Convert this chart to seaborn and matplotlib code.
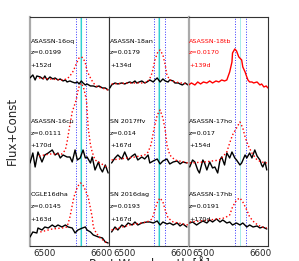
import numpy as np
import pandas as pd
import matplotlib
matplotlib.use("Agg")
import matplotlib.pyplot as plt
import seaborn as sns

# names / labels, column by column, top to bottom
names = [["ASASSN-16oq", "ASASSN-16cu", "OGLE16dha"],
         ["ASASSN-18an", "SN 2017ffv", "SN 2016dag"],
         ["ASASSN-18tb", "ASASSN-17ho", "ASASSN-17hb"]]
redshifts = [["z=0.0199", "z=0.0111", "z=0.0145"],
             ["z=0.0179", "z=0.014", "z=0.0193"],
             ["z=0.0170", "z=0.017", "z=0.0191"]]
phases = [["+152d", "+170d", "+163d"],
          ["+134d", "+167d", "+167d"],
          ["+139d", "+154d", "+170d"]]

# line markers per column: centre, lower, upper (Angstrom)
line_centre = [6563.5, 6561, 6565]
line_lo = [6554, 6552, 6555]
line_hi = [6573, 6571, 6574]

# ---- column 1 ----
wl_16oq = [6474, 6479, 6483, 6486, 6492, 6497, 6500, 6504, 6509, 6514, 6518, 6523, 6527, 6532, 6536, 6539,
           6544, 6548, 6553, 6557, 6560, 6564, 6567, 6571, 6574, 6580, 6585, 6590, 6595, 6601, 6606, 6611]
fl_16oq = [16.8, 17.1, 16.6, 17.0, 16.9, 16.7, 17.0, 16.6, 16.9, 16.7, 16.8, 16.6, 16.7, 16.5, 16.6, 16.4,
           16.5, 16.4, 16.3, 16.4, 16.2, 16.5, 16.3, 16.1, 16.2, 16.0, 16.0, 15.9, 16.0, 15.8, 15.8, 15.6]
mwl_16oq = [6490, 6509, 6530, 6539, 6544, 6550, 6555, 6560, 6564, 6567, 6571, 6574, 6580, 6585, 6590, 6600, 6611]
mfl_16oq = [16.8, 16.7, 16.6, 16.7, 17.0, 17.5, 18.2, 18.8, 18.9, 18.8, 18.3, 17.5, 16.8, 16.3, 16.0, 15.8, 15.6]

wl_16cu = [6474, 6479, 6483, 6488, 6495, 6500, 6506, 6513, 6518, 6523, 6527, 6532, 6539, 6544, 6548,
           6553, 6557, 6562, 6567, 6571, 6574, 6580, 6583, 6588, 6594, 6597, 6601, 6606, 6611]
fl_16cu = [8.3, 9.3, 7.9, 9.4, 8.4, 9.1, 9.3, 9.6, 9.1, 9.3, 8.8, 9.1, 8.9, 8.9, 8.4,
           9.6, 8.6, 8.8, 9.6, 8.8, 8.9, 8.3, 8.9, 7.6, 8.4, 7.8, 7.4, 8.1, 7.3]
mwl_16cu = [6490, 6509, 6530, 6536, 6539, 6543, 6548, 6555, 6559, 6564, 6568, 6573, 6576, 6580, 6583, 6588, 6597, 6611]
mfl_16cu = [9.0, 9.2, 9.2, 9.6, 10.4, 11.8, 13.4, 14.6, 15.8, 16.3, 15.8, 14.6, 11.8, 10.1, 9.4, 8.6, 8.3, 7.8]

wl_16dha = [6474, 6479, 6486, 6488, 6495, 6500, 6506, 6513, 6518, 6523, 6530, 6536, 6541, 6548, 6553,
            6558, 6566, 6571, 6574, 6580, 6585, 6594, 6601, 6606, 6611]
fl_16dha = [0.9, 1.4, 1.3, 1.8, 1.6, 1.9, 1.8, 2.1, 1.9, 2.1, 1.9, 2.1, 1.9, 1.8, 1.3,
            1.6, 1.8, 1.9, 1.6, 1.4, 1.1, 0.9, 0.8, 0.4, 0.3]
mwl_16dha = [6492, 6513, 6530, 6539, 6544, 6551, 6557, 6562, 6566, 6571, 6576, 6583, 6585, 6590, 6597, 6611]
mfl_16dha = [1.4, 1.7, 1.8, 1.9, 2.9, 4.9, 5.9, 6.3, 6.2, 5.6, 4.9, 2.9, 1.9, 1.3, 0.8, 0.2]

# ---- column 2 ----
wl_18an = [6475, 6478, 6484, 6489, 6496, 6501, 6505, 6510, 6514, 6519, 6522, 6531, 6536, 6540, 6545,
           6551, 6554, 6558, 6563, 6568, 6572, 6577, 6580, 6586, 6589, 6595, 6598, 6602, 6607, 6612]
fl_18an = [15.8, 16.1, 16.3, 16.2, 16.3, 16.2, 16.3, 16.4, 16.3, 16.5, 16.3, 16.5, 16.3, 16.4, 16.6,
           16.4, 16.6, 16.8, 16.4, 16.7, 16.5, 16.4, 16.6, 16.5, 16.3, 16.3, 16.2, 16.1, 16.3, 16.1]
mwl_18an = [6478, 6510, 6536, 6544, 6549, 6554, 6559, 6563, 6568, 6572, 6575, 6580, 6589, 6612]
mfl_18an = [16.2, 16.3, 16.3, 16.6, 17.3, 18.6, 19.4, 19.6, 19.1, 18.1, 17.1, 16.6, 16.4, 16.2]

wl_17ffv = [6478, 6484, 6489, 6496, 6501, 6507, 6514, 6519, 6524, 6531, 6536, 6542, 6545, 6551,
            6558, 6563, 6568, 6575, 6580, 6586, 6593, 6598, 6603, 6610]
fl_17ffv = [8.3, 8.8, 9.1, 8.7, 9.4, 8.6, 9.0, 9.2, 8.6, 8.9, 8.7, 9.1, 8.3, 8.5,
            8.7, 8.2, 8.5, 8.7, 8.2, 8.4, 8.5, 8.2, 8.4, 8.3]
mwl_17ffv = [6478, 6519, 6536, 6542, 6547, 6552, 6558, 6563, 6568, 6572, 6575, 6580, 6589, 6612]
mfl_17ffv = [8.6, 8.9, 9.1, 9.4, 10.1, 11.6, 13.1, 13.6, 12.8, 11.6, 10.1, 9.1, 8.6, 8.3]

wl_16dag = [6478, 6484, 6489, 6496, 6501, 6507, 6514, 6519, 6524, 6531, 6540, 6545, 6551, 6558,
            6563, 6568, 6575, 6580, 6586, 6593, 6598, 6603, 6610]
fl_16dag = [1.4, 1.9, 1.6, 2.1, 1.9, 2.3, 2.1, 2.4, 2.1, 2.3, 2.4, 2.4, 2.3, 2.5,
            2.1, 2.4, 2.2, 2.3, 2.1, 2.3, 2.0, 2.2, 1.9]
mwl_16dag = [6478, 6510, 6540, 6549, 6554, 6559, 6563, 6568, 6572, 6577, 6586, 6612]
mfl_16dag = [1.6, 2.1, 2.4, 2.7, 3.6, 4.5, 4.8, 4.4, 3.6, 2.8, 2.4, 2.1]

# ---- column 3 ----
wl_18tb = [6474, 6479, 6485, 6490, 6495, 6500, 6506, 6511, 6516, 6522, 6527, 6532, 6537, 6541, 6546, 6550,
           6551, 6555, 6558, 6562, 6567, 6569, 6573, 6576, 6578, 6581, 6585, 6588, 6594, 6599, 6602, 6606, 6610, 6613]
fl_18tb = [16.1, 16.3, 16.1, 16.4, 16.2, 16.4, 16.3, 16.5, 16.3, 16.5, 16.4, 16.6, 16.5, 16.6, 17.4, 18.4,
           19.3, 19.7, 19.5, 18.9, 18.6, 17.9, 17.4, 16.9, 16.6, 16.4, 16.4, 16.3, 16.4, 16.1, 16.2, 15.9, 16.0, 15.8]

wl_17ho = [6476, 6481, 6485, 6490, 6493, 6499, 6502, 6506, 6511, 6516, 6520, 6525, 6529, 6532, 6537, 6541,
           6546, 6550, 6555, 6558, 6564, 6567, 6573, 6576, 6581, 6585, 6590, 6594, 6599, 6602, 6604, 6608, 6611]
fl_17ho = [7.9, 8.6, 8.4, 7.6, 7.3, 8.6, 8.3, 7.6, 8.4, 7.8, 7.9, 7.3, 8.6, 8.9, 8.1, 9.3,
           8.8, 9.4, 8.8, 8.6, 8.1, 8.3, 9.1, 8.8, 9.3, 8.8, 9.6, 9.0, 8.6, 8.1, 7.9, 8.4, 7.6]
mwl_17ho = [6476, 6502, 6529, 6541, 6546, 6551, 6558, 6564, 6569, 6573, 6578, 6585, 6594, 6602, 6611]
mfl_17ho = [8.3, 8.4, 8.6, 9.4, 10.3, 11.1, 11.8, 12.4, 11.8, 10.9, 10.1, 9.3, 8.6, 8.4, 8.3]

wl_17hb = [6476, 6481, 6488, 6493, 6499, 6506, 6511, 6516, 6523, 6529, 6534, 6541, 6546, 6551,
           6558, 6564, 6569, 6576, 6581, 6587, 6594, 6599, 6604, 6611]
fl_17hb = [2.3, 2.4, 2.1, 2.3, 2.5, 2.3, 2.6, 2.4, 2.7, 2.4, 2.6, 2.3, 2.4, 2.1,
           2.3, 2.1, 2.3, 1.9, 2.1, 1.9, 2.0, 1.8, 1.9, 1.7]
mwl_17hb = [6476, 6511, 6537, 6546, 6551, 6558, 6564, 6569, 6576, 6581, 6590, 6602, 6611]
mfl_17hb = [2.4, 2.6, 2.8, 3.1, 3.9, 4.6, 4.8, 4.4, 3.6, 2.9, 2.3, 1.9, 1.8]

spectra = [[(wl_16oq, fl_16oq), (wl_16cu, fl_16cu), (wl_16dha, fl_16dha)],
           [(wl_18an, fl_18an), (wl_17ffv, fl_17ffv), (wl_16dag, fl_16dag)],
           [(wl_18tb, fl_18tb), (wl_17ho, fl_17ho), (wl_17hb, fl_17hb)]]
models = [[(mwl_16oq, mfl_16oq), (mwl_16cu, mfl_16cu), (mwl_16dha, mfl_16dha)],
          [(mwl_18an, mfl_18an), (mwl_17ffv, mfl_17ffv), (mwl_16dag, mfl_16dag)],
          [None, (mwl_17ho, mfl_17ho), (mwl_17hb, mfl_17hb)]]
label_y = [(20.4, 19.3, 18.0), (12.4, 11.2, 10.0), (5.1, 3.9, 2.6)]

sns.set_theme(style="white")
plt.rcParams['font.family'] = ['DejaVu Sans']

fig, axes = plt.subplots(1, 3, figsize=(2.99, 2.61), dpi=100, sharey=True)
fig.subplots_adjust(left=0.1003, right=0.896, top=0.935, bottom=0.0575, wspace=0)

for c, ax in enumerate(axes):
    ax.axvspan(line_centre[c] - 1.5, line_centre[c] + 1.5, color='#a8ecec', lw=0, zorder=1)
    if c < 2:
        ax.axvline(line_centre[c], color='#2fd0d0', lw=0.8, zorder=1)
    for xv in (line_lo[c], line_hi[c]):
        ax.axvline(xv, color='blue', ls=':', lw=0.7, alpha=0.8, zorder=1)
    for r in range(3):
        wl, fl = spectra[c][r]
        col = 'red' if (c == 2 and r == 0) else 'black'
        sns.lineplot(x=wl, y=fl, ax=ax, color=col, lw=1.0, sort=False, zorder=3)
        if models[c][r] is not None:
            mwl, mfl = models[c][r]
            sns.lineplot(x=mwl, y=mfl, ax=ax, color='red', lw=1.0, ls=':', sort=False,
                         zorder=4, clip_on=False)
        ty = label_y[r]
        for txt, yy in zip((names[c][r], redshifts[c][r], phases[c][r]), ty):
            ax.text(6475, yy, txt, fontsize=4.6, color=col, va='center', ha='left', zorder=5)
    ax.set_xlim(6474, 6613)
    ax.set_ylim(0, 22.9)
    ax.set_xticks([6500, 6600])
    ax.set_yticks([])
    ax.tick_params(axis='x', labelsize=6.3, direction='in', length=2, pad=2)
    for s in ax.spines.values():
        s.set_color('#333333')
        s.set_linewidth(0.8)
    if c != 1:
        ax.spines['left'].set_color('#aaaaaa')
        ax.spines['left'].set_linewidth(1.6)
    ax.set_xlabel('')
    ax.set_ylabel('')

fig.text(0.04, 0.5, 'Flux+Const', rotation=90, fontsize=8.5, va='center', ha='center')
fig.text(0.5, 0.018, 'Rest Wavelength [Å]', fontsize=8.5, va='top', ha='center')

fig.savefig('out.png', dpi=100)
